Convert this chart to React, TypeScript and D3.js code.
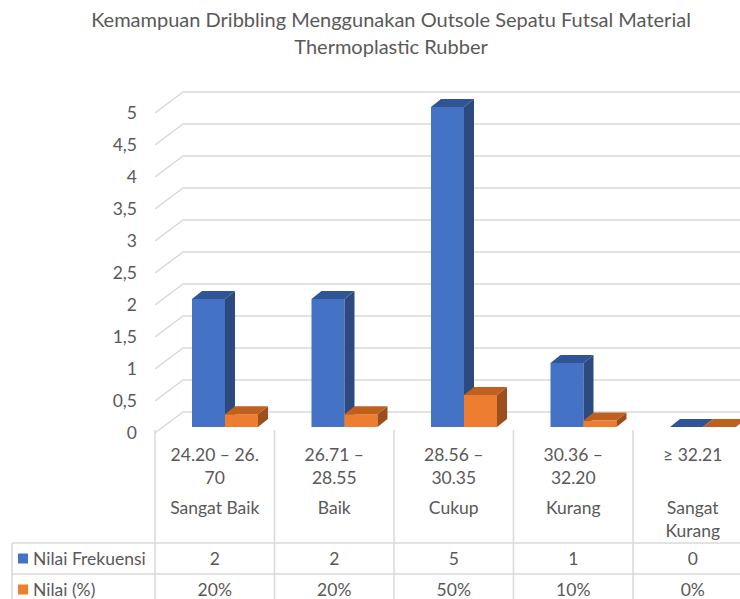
import React from 'react';
import * as d3 from 'd3';

const title = ['Kemampuan Dribbling Menggunakan Outsole Sepatu Futsal Material', 'Thermoplastic Rubber'];
const categories = ['Sangat Baik', 'Baik', 'Cukup', 'Kurang', 'Sangat Kurang'];
const rangeLines = [['24.20 – 26.', '70'], ['26.71 –', '28.55'], ['28.56 –', '30.35'], ['30.36 –', '32.20'], ['≥ 32.21']];
const nameLines = [['Sangat Baik'], ['Baik'], ['Cukup'], ['Kurang'], ['Sangat', 'Kurang']];
const frekuensi = [2, 2, 5, 1, 0];
const persen = [0.2, 0.2, 0.5, 0.1, 0];
const persenLabels = ['20%', '20%', '50%', '10%', '0%'];
const yTicks = [0, 0.5, 1, 1.5, 2, 2.5, 3, 3.5, 4, 4.5, 5];

const series = [
  { key: 'Nilai Frekuensi', values: frekuensi, labels: frekuensi.map(String), front: '#4472C4', side: '#2c4a80', top: '#2f5597' },
  { key: 'Nilai (%)', values: persen, labels: persenLabels, front: '#ED7D31', side: '#9b4f1c', top: '#c0601e' },
];

const W = 740, H = 599;
const FONT = 'Lato, "Open Sans", sans-serif';
const GREY = '#595959';
const GRID = '#d9d9d9';
const FS = 17.5;

// 3D geometry
const base = 433;                  // front edge of the floor
const floor = { dx: 28, dy: -21 }; // depth of the whole plot
const barOff = { dx: 8, dy: -6 };  // bars sit a bit into the depth
const barDepth = { dx: 10, dy: -8 };

const App: React.FC = () => {
  const x0 = d3.scaleBand<string>().domain(categories).range([155, 752.5]);
  const x1 = d3.scaleBand<string>().domain(series.map(s => s.key)).range([29, 95]);
  const y = d3.scaleLinear().domain([0, 5]).range([0, 320]);
  const fmt = (t: number) => String(t).replace('.', ',');

  const barBottom = base + barOff.dy;
  const tableTop = 543, rowH = 31;

  return (
    <svg width={W} height={H} style={{ position: 'absolute', left: 0, top: 0, background: '#fff' }} fontFamily={FONT}>
      {title.map((t, i) => (
        <text key={i} x={391} y={20 + i * 27} dy="0.35em" textAnchor="middle" fontSize={20} fill={GREY}>{t}</text>
      ))}

      {/* gridlines: side wall diagonal + back wall */}
      {yTicks.map(t => {
        const yf = base - y(t);
        return (
          <g key={t}>
            <polyline points={`155,${yf} ${155 + floor.dx},${yf + floor.dy} ${W},${yf + floor.dy}`}
              fill="none" stroke={GRID} strokeWidth={1.5} />
            <text x={137} y={yf} dy="0.35em" textAnchor="end" fontSize={FS} fill={GREY}>{fmt(t)}</text>
          </g>
        );
      })}

      {/* bars */}
      {categories.map((c, ci) => (
        <g key={c}>
          {series.map(s => {
            const xl = (x0(c) ?? 0) + (x1(s.key) ?? 0) + barOff.dx;
            const xr = xl + x1.bandwidth();
            const top = barBottom - y(s.values[ci]);
            const { dx, dy } = barDepth;
            return (
              <g key={s.key}>
                {top < barBottom && <rect x={xl} y={top} width={xr - xl} height={barBottom - top} fill={s.front} />}
                {top < barBottom && <polygon points={`${xr},${top} ${xr + dx},${top + dy} ${xr + dx},${barBottom + dy} ${xr},${barBottom}`} fill={s.side} />}
                <polygon points={`${xl},${top} ${xl + dx},${top + dy} ${xr + dx},${top + dy} ${xr},${top}`} fill={s.top} />
              </g>
            );
          })}
        </g>
      ))}

      {/* category axis and data table */}
      {categories.map((c, ci) => {
        const xs = x0(c) ?? 0;
        const cx = xs + x0.bandwidth() / 2;
        return (
          <g key={c}>
            <line x1={xs} x2={xs} y1={base - 3} y2={H} stroke={GRID} strokeWidth={1.5} />
            {rangeLines[ci].map((t, i) => (
              <text key={'r' + i} x={cx} y={455 + i * 23} dy="0.35em" textAnchor="middle" fontSize={FS} fill={GREY}>{t}</text>
            ))}
            {nameLines[ci].map((t, i) => (
              <text key={'n' + i} x={cx} y={508 + i * 23} dy="0.35em" textAnchor="middle" fontSize={FS} fill={GREY}>{t}</text>
            ))}
            {series.map((s, si) => (
              <text key={s.key} x={cx} y={tableTop + rowH * si + rowH / 2} dy="0.35em" textAnchor="middle" fontSize={FS} fill={GREY}>{s.labels[ci]}</text>
            ))}
          </g>
        );
      })}
      <line x1={12} x2={12} y1={tableTop} y2={H} stroke={GRID} strokeWidth={1.5} />
      {[0, 1].map(i => (
        <line key={i} x1={12} x2={W} y1={tableTop + rowH * i} y2={tableTop + rowH * i} stroke={GRID} strokeWidth={1.5} />
      ))}
      {series.map((s, si) => (
        <g key={s.key}>
          <rect x={18} y={tableTop + rowH * si + rowH / 2 - 5} width={10} height={10} fill={s.front} />
          <text x={33} y={tableTop + rowH * si + rowH / 2} dy="0.35em" fontSize={FS} fill={GREY}>{s.key}</text>
        </g>
      ))}
    </svg>
  );
};

export default App;
